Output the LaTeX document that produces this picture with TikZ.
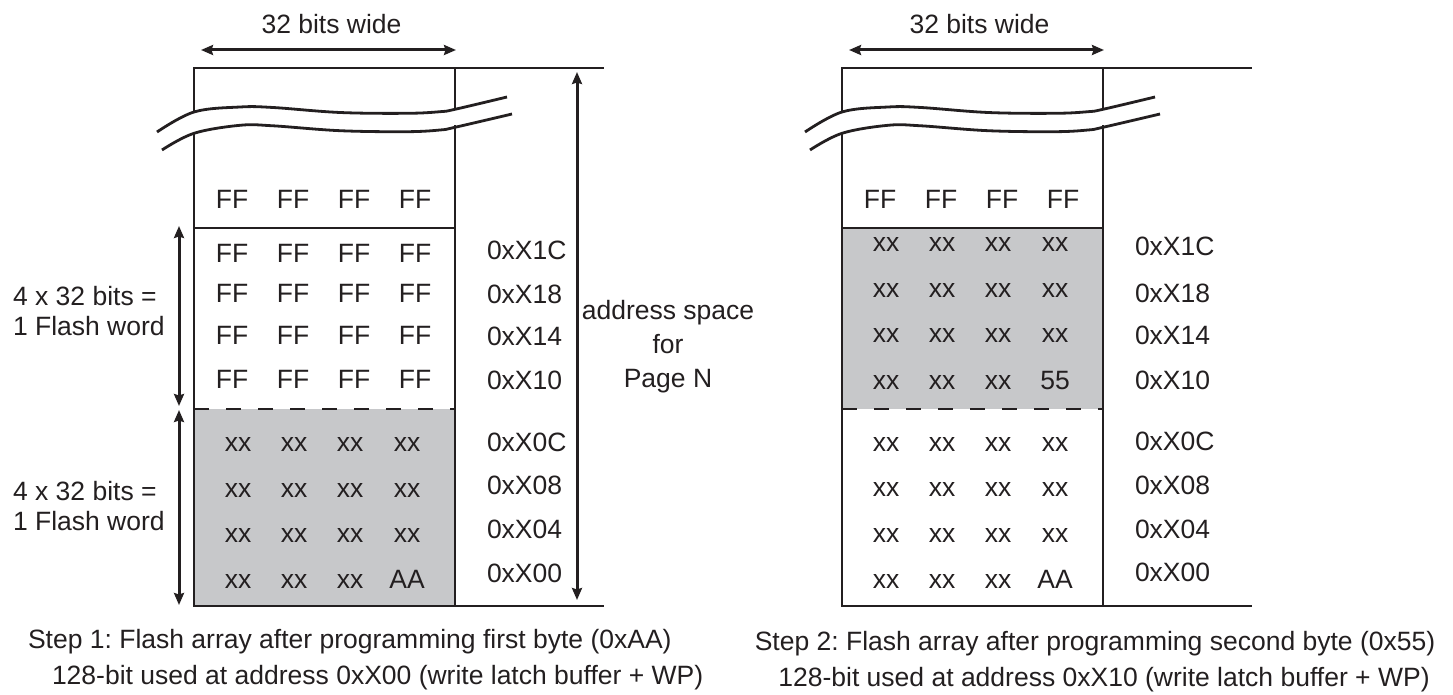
\documentclass[tikz,border=0pt]{standalone}
\usepackage{fontspec}
\setmainfont{Liberation Sans}
\usetikzlibrary{arrows.meta}
\definecolor{ink}{RGB}{35,31,32}
\definecolor{cellgray}{RGB}{199,200,202}
\tikzset{
  frame/.style={draw=ink, line width=2.8pt},
  txt/.style={anchor=base, inner sep=0pt, outer sep=0pt, font=\fontsize{26.5}{32}\selectfont, text=ink},
  lbl/.style={txt, anchor=base west},
  dimline/.style={draw=ink, line width=3pt, {Stealth[length=12pt,width=10pt,inset=1.5pt]}-{Stealth[length=12pt,width=10pt,inset=1.5pt]}},
  dashline/.style={draw=ink, line width=2.8pt, dash pattern=on 15pt off 17pt}
}
\frenchspacing
\begin{document}
\begin{tikzpicture}[x=1pt,y=-1pt]
\useasboundingbox (0,0) rectangle (1453,695);
% gray fills
\fill[cellgray] (194,409) rectangle (455,606);
\fill[cellgray] (842,228) rectangle (1103,409);
% frames
\foreach \dx in {0,648}{
\begin{scope}[shift={(\dx,0)}]
  \draw[frame] (194,112) -- (194,68) -- (455,68) -- (455,109);
  \draw[frame] (455,68) -- (604,68);
  \draw[frame] (194,133) -- (194,606) -- (455,606) -- (455,125);
  \draw[frame] (455,606) -- (604,606);
  \draw[frame] plot[smooth, tension=0.6] coordinates {(157,132) (194,112) (240,107) (273,107.5) (340,112.5) (407,113.3) (440,111.7) (455,109.3) (507,97)};
  \draw[frame] plot[smooth, tension=0.6] coordinates {(162,150) (194,133.3) (240,125.3) (273,125.8) (340,130.7) (407,131.7) (440,130) (455,127.3) (512,114)};
  \draw[frame] (194,228) -- (455,228);
  \draw[dashline] (194,409) -- (455,409);
\end{scope}
}
% top width arrows
\node[txt] (w1) at (331.5,34) {32 bits wide};
\node[txt] (w2) at (979.5,34) {32 bits wide};
\coordinate (w1l) at (201,50); \coordinate (w1r) at (456,50);
\coordinate (w2l) at (849,50); \coordinate (w2r) at (1104,50);
\draw[dimline] (w1l) -- (w1r);
\draw[dimline] (w2l) -- (w2r);
% left box cells
\foreach \c/\o in {1/38,2/99,3/160,4/221}{
  \node[txt] (LT\c) at (194+\o,208) {FF};
  \node[txt] (RT\c) at (842+\o,208) {FF};
}
\foreach \r/\y in {1/262,2/302,3/344,4/388}{
  \foreach \c/\o in {1/38,2/99,3/160,4/221}{
    \node[txt] (LF\r\c) at (194+\o,\y) {FF};
  }
}
\foreach \r/\y in {1/451,2/497,3/542}{
  \foreach \c/\o in {1/44,2/100,3/156,4/213}{
    \node[txt] (LX\r\c) at (194+\o,\y) {xx};
  }
}
\foreach \c/\o in {1/44,2/100,3/156}{
  \node[txt] (LX4\c) at (194+\o,588) {xx};
}
\node[txt] (LX44) at (194+213,588) {AA};
% right box cells
\foreach \r/\y in {1/251,2/297,3/342}{
  \foreach \c/\o in {1/44,2/100,3/156,4/213}{
    \node[txt] (RG\r\c) at (842+\o,\y) {xx};
  }
}
\foreach \c/\o in {1/44,2/100,3/156}{
  \node[txt] (RG4\c) at (842+\o,389) {xx};
}
\node[txt] (RG44) at (842+213,389) {55};
\foreach \r/\y in {1/451,2/496,3/542}{
  \foreach \c/\o in {1/44,2/100,3/156,4/213}{
    \node[txt] (RX\r\c) at (842+\o,\y) {xx};
  }
}
\foreach \c/\o in {1/44,2/100,3/156}{
  \node[txt] (RX4\c) at (842+\o,588) {xx};
}
\node[txt] (RX44) at (842+213,588) {AA};
% address labels
\foreach \t/\y in {0xX1C/259,0xX18/303,0xX14/345,0xX10/389,0xX0C/451,0xX08/494,0xX04/538,0xX00/582}{
  \node[lbl] (La\t) at (487,\y) {\t};
}
\foreach \t/\y in {0xX1C/255,0xX18/302,0xX14/344,0xX10/389,0xX0C/450,0xX08/494,0xX04/538,0xX00/581}{
  \node[lbl] (Ra\t) at (1135,\y) {\t};
}
% address space arrow
\coordinate (ast) at (577,72); \coordinate (asb) at (577,600);
\draw[dimline] (ast) -- (asb);
\node[txt] (as1) at (668,319) {address space};
\node[txt] (as2) at (668,353) {for};
\node[txt] (as3) at (668,387) {Page N};
% flash word arrows
\coordinate (f1t) at (179,226); \coordinate (f1b) at (179,406);
\coordinate (f2t) at (179,410); \coordinate (f2b) at (179,605);
\draw[dimline] (f1t) -- (f1b);
\draw[dimline] (f2t) -- (f2b);
\node[lbl] (fw1a) at (13,305) {4 x 32 bits =};
\node[lbl] (fw1b) at (13,335) {1 Flash word};
\node[lbl] (fw2a) at (13,500) {4 x 32 bits =};
\node[lbl] (fw2b) at (13,530) {1 Flash word};
% captions
\node[lbl] (c1a) at (28,648) {Step 1: Flash array after programming first byte (0xAA)};
\node[lbl] (c1b) at (52,684) {128-bit used at address 0xX00 (write latch buffer + WP)};
\node[txt] (c2a) at (1095,650) {Step 2: Flash array after programming second byte (0x55)};
\node[txt] (c2b) at (1104,686) {128-bit used at address 0xX10 (write latch buffer + WP)};
\end{tikzpicture}
\end{document}
